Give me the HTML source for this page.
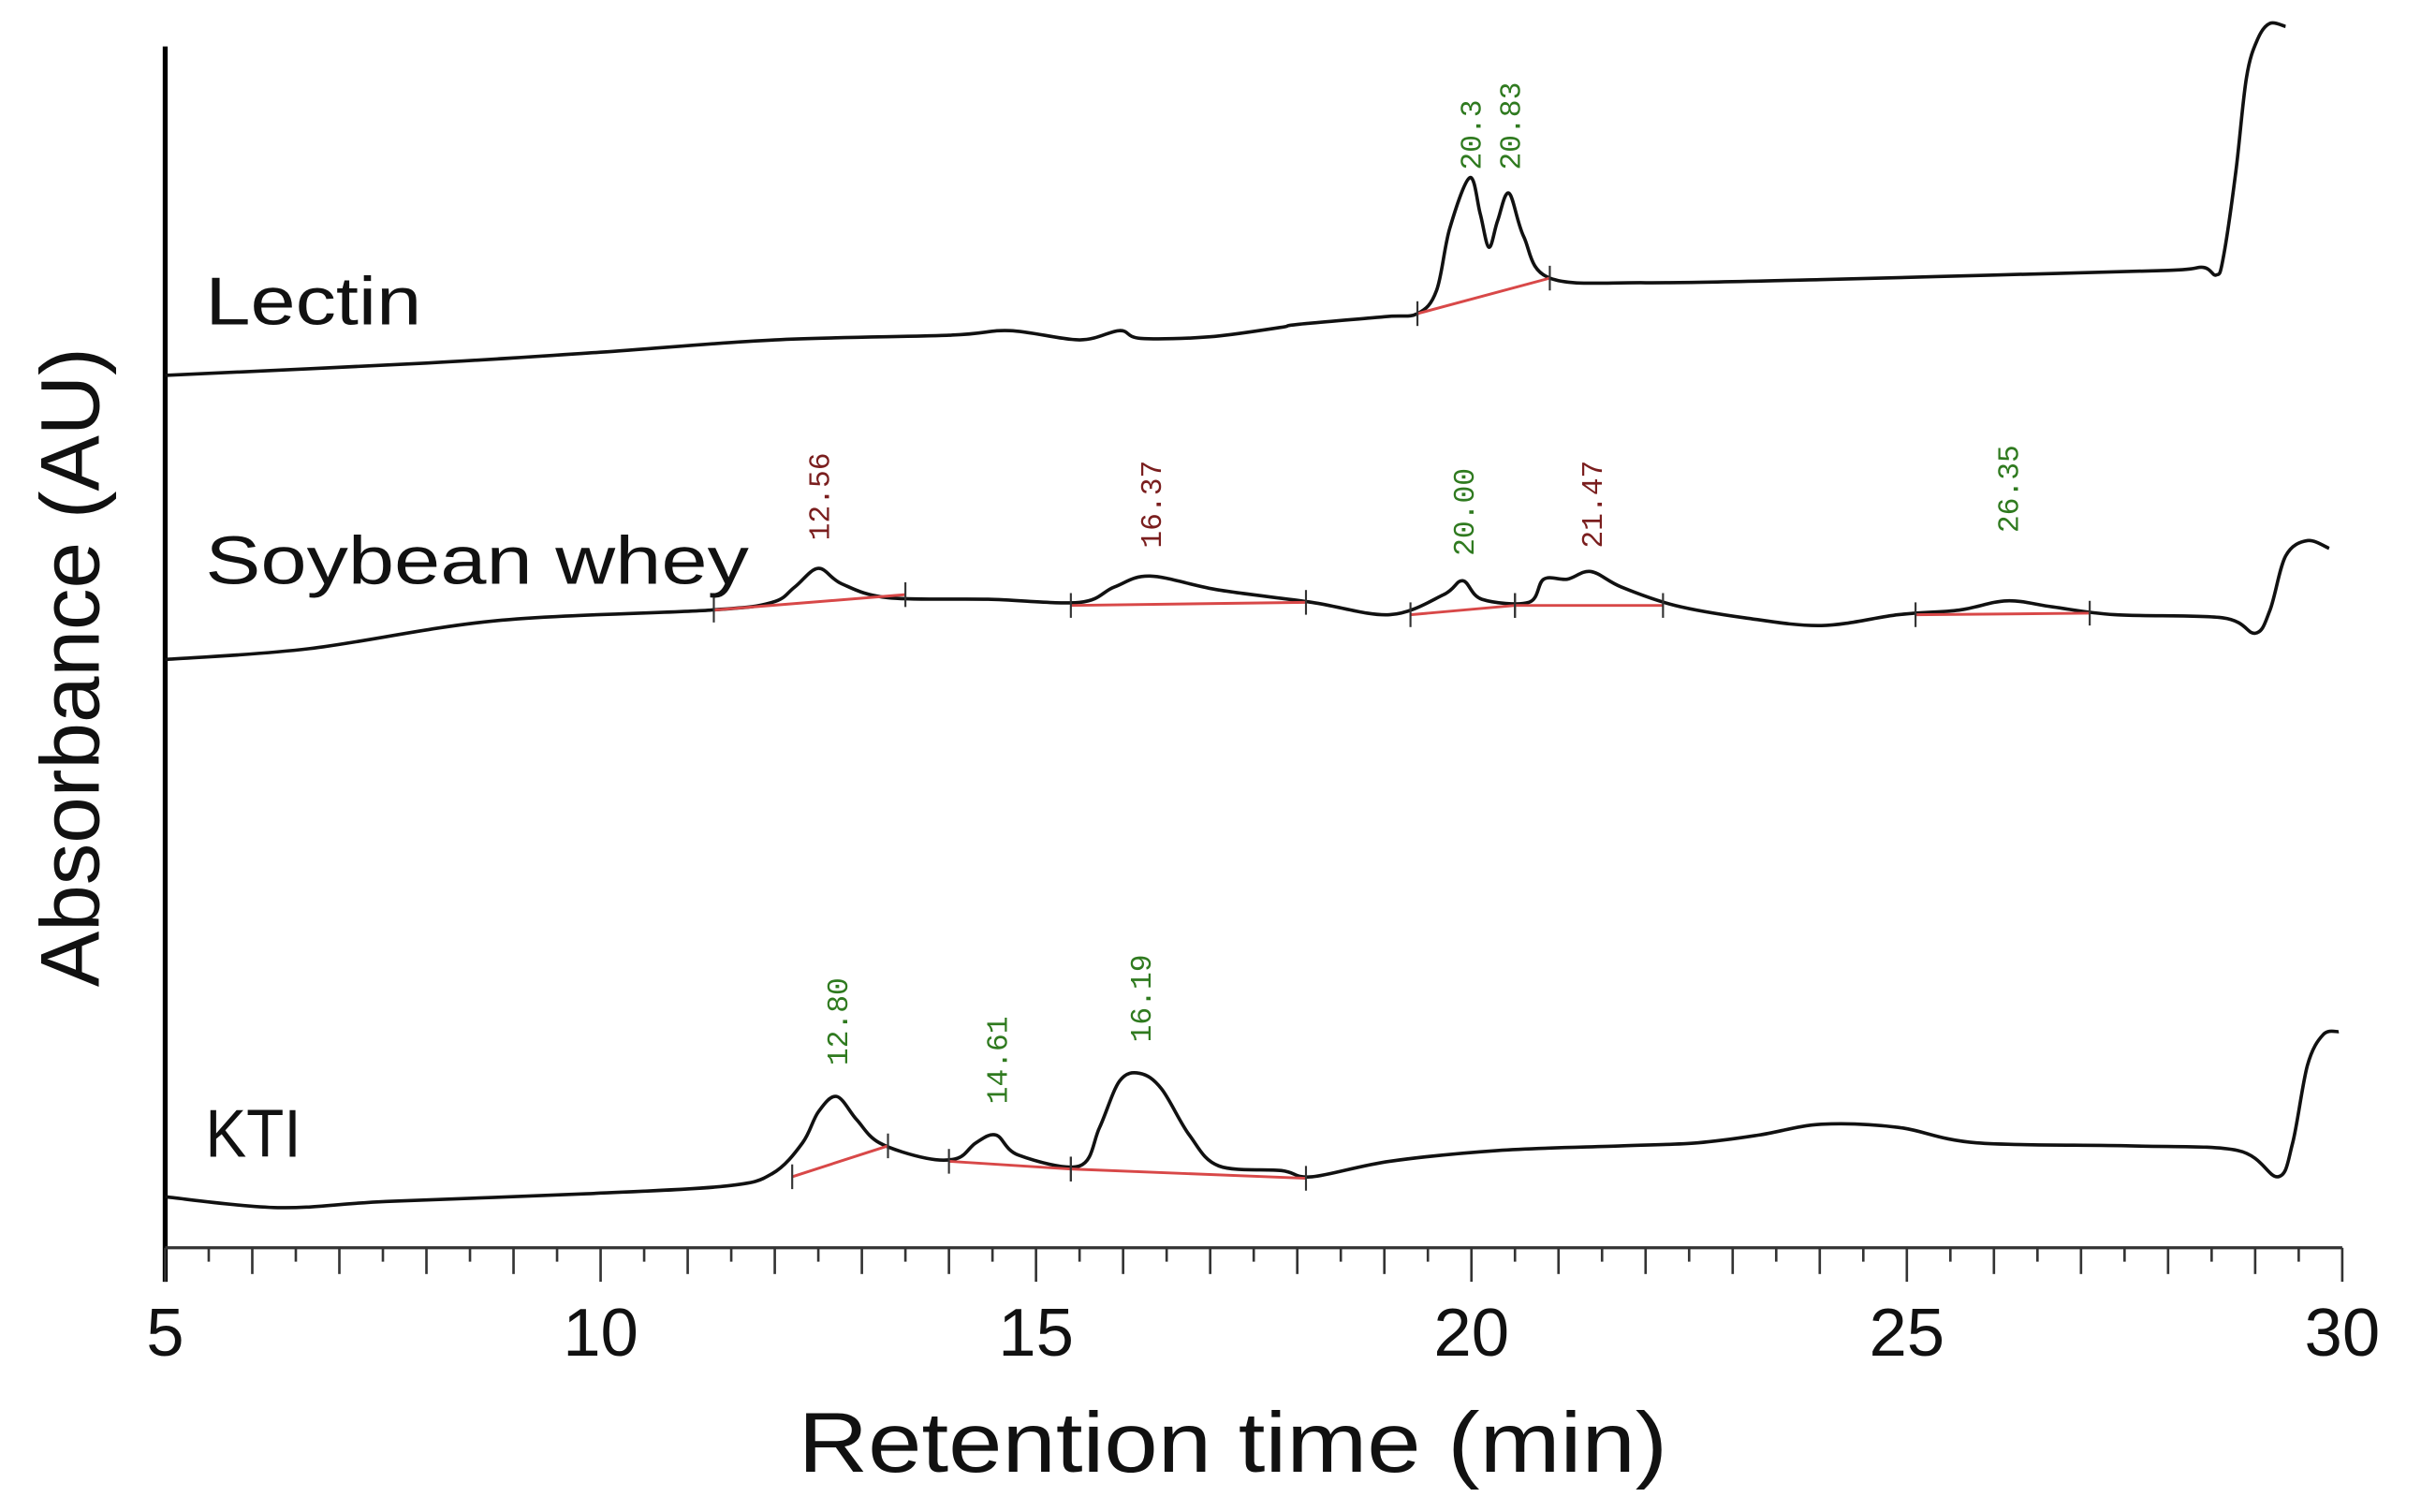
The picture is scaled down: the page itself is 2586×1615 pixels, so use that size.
<!DOCTYPE html>
<html><head><meta charset="utf-8"><style>html,body{margin:0;padding:0;background:#fff}svg{display:block}</style></head>
<body>
<svg id="chart" width="2586" height="1615" viewBox="0 0 1568 979" xmlns="http://www.w3.org/2000/svg" font-family="'Liberation Sans', sans-serif">
<g id="axes"></g>
<g id="traces"></g>
<g id="labels"></g>
</svg>
<script>
const xTicks = [5, 10, 15, 20, 25, 30];
const seriesNames = ["Lectin", "Soybean whey", "KTI"];
const lectinT = [5, 8, 10, 12, 14, 14.7, 15.5, 15.96, 16.2, 17, 17.8, 18, 19, 19.38, 19.6, 19.75, 19.98, 20.1, 20.2, 20.3, 20.43, 20.6, 20.9, 22, 24, 26, 28, 28.4, 28.55, 28.63, 28.78, 28.9, 29.03, 29.17, 29.35];
const lectinV = [565, 573, 580, 588, 591, 594, 588, 594, 589, 590, 596, 598, 603, 605, 620, 660, 693, 670, 648, 665, 683, 655, 628, 625, 627, 630, 633, 635, 630, 640, 698, 758, 783, 793, 791];
const soyT = [5, 6.65, 8.78, 11.26, 11.97, 12.23, 12.5, 12.77, 13.3, 14.45, 15.5, 15.9, 16.31, 17.1, 18.17, 19.06, 19.68, 19.9, 20.12, 20.66, 20.83, 21.1, 21.37, 21.72, 22.34, 23.14, 24.02, 24.9, 25.6, 26.15, 26.68, 27.39, 28.63, 29.0, 29.17, 29.35, 29.6, 29.85];
const soyV = [381, 388, 406, 413, 418, 428, 440, 430, 421, 420, 418, 428, 435, 426, 418, 410, 423, 432, 420, 418, 433, 433, 438, 428, 416, 408, 403, 410, 413, 419, 415, 410, 408, 398, 413, 448, 458, 453];
const ktiT = [5, 6.29, 7.54, 9.84, 11.44, 11.97, 12.32, 12.5, 12.71, 12.94, 13.2, 13.74, 14.1, 14.31, 14.54, 14.8, 15.5, 15.73, 15.96, 16.19, 16.44, 16.76, 17.1, 17.82, 18.17, 19.06, 20.3, 21.72, 22.6, 23.3, 24.02, 24.9, 25.8, 27.57, 28.8, 29.26, 29.43, 29.6, 29.78, 29.96];
const ktiV = [33, 26, 30, 35, 40, 48, 68, 88, 98, 83, 68, 58, 58, 68, 73, 60, 53, 78, 108, 113, 103, 73, 53, 50, 46, 56, 63, 66, 68, 73, 80, 78, 68, 66, 63, 46, 68, 118, 138, 140];
const peakTimes = [19.98, 20.43, 12.5, 16.31, 19.9, 21.37, 26.15, 12.71, 14.54, 16.19];
const peakLabels = ["20.3", "20.83", "12.56", "16.37", "20.00", "21.47", "26.35", "12.80", "14.61", "16.19"];
const peakLabelBottomV = [698, 698, 458, 453, 448, 453, 463, 118, 93, 133];
const peakColors = ["#2f7a1f","#2f7a1f","#7a1e1e","#7a1e1e","#2f7a1f","#7a1e1e","#2f7a1f","#2f7a1f","#2f7a1f","#2f7a1f"];
const baseStartT = [19.38, 11.3, 15.4, 19.3, 20.5, 25.1, 12.2, 14.0, 15.4];
const baseStartV = [605, 413, 416, 410, 416, 410, 46, 56, 51];
const baseEndT = [20.9, 13.5, 18.1, 20.5, 22.2, 27.1, 13.3, 15.4, 18.1];
const baseEndV = [628, 423, 418, 416, 416, 411, 66, 51, 45];

const NS = "http://www.w3.org/2000/svg";
const X0 = 107, X1 = 1517, T0 = 5, T1 = 30, AXY = 808;
function xs(t){ return X0 + (t - T0) * (X1 - X0) / (T1 - T0); }
function ys(v){ return AXY - v; }
function mk(tag, attrs, parent){ const e = document.createElementNS(NS, tag); for (const k in attrs) e.setAttribute(k, attrs[k]); parent.appendChild(e); return e; }
const axes = document.getElementById('axes'), traces = document.getElementById('traces'), labels = document.getElementById('labels');

let e = mk('line', {x1:X0, y1:30, x2:X0, y2:AXY+22, stroke:'#000', 'stroke-width':3.2}, axes);
 
e = mk('line', {x1:X0, y1:AXY, x2:X1, y2:AXY, stroke:'#333', 'stroke-width':2}, axes);
 
for (let t = T0; t <= T1 + 1e-9; t += 0.5) {
  const major = Math.abs(t % 5) < 1e-9, whole = Math.abs(t % 1) < 1e-9;
  const len = major ? 22 : (whole ? 17 : 9);
  e = mk('line', {x1:xs(t), y1:AXY, x2:xs(t), y2:AXY+len, stroke:'#333', 'stroke-width':1.6}, axes);
   
}
xTicks.forEach(t => {
  const tx = mk('text', {x:xs(t), y:878, 'font-size':44, 'text-anchor':'middle', fill:'#111'}, axes);
  tx.textContent = t;
   
});
e = mk('text', {x:517, y:953, 'font-size':55, textLength:563, lengthAdjust:'spacingAndGlyphs', fill:'#111'}, axes);
e.textContent = 'Retention time (min)';
 
e = mk('text', {x:0, y:0, 'font-size':54, 'text-anchor':'middle', fill:'#111', transform:'translate(64,432) rotate(-90)'}, axes);
e.textContent = 'Absorbance (AU)';
 

function drawTrace(T, V, name){
  const P = T.map((t,i)=>[xs(t), ys(V[i])]);
  let d = 'M' + P[0][0].toFixed(1) + ',' + P[0][1].toFixed(1);
  for (let i = 0; i < P.length - 1; i++) {
    const p0 = P[Math.max(0,i-1)], p1 = P[i], p2 = P[i+1], p3 = P[Math.min(P.length-1,i+2)];
    const c1x = p1[0] + (p2[0]-p0[0])/6, c1y = p1[1] + (p2[1]-p0[1])/6;
    const c2x = p2[0] - (p3[0]-p1[0])/6, c2y = p2[1] - (p3[1]-p1[1])/6;
    d += ' C' + c1x.toFixed(1)+','+c1y.toFixed(1)+' '+c2x.toFixed(1)+','+c2y.toFixed(1)+' '+p2[0].toFixed(1)+','+p2[1].toFixed(1);
  }
  const p = mk('path', {d:d, fill:'none', stroke:'#111', 'stroke-width':2.2, 'stroke-linejoin':'round'}, traces);
   
}
drawTrace(lectinT, lectinV, 'lectin-trace');
drawTrace(soyT, soyV, 'soybean-whey-trace');
drawTrace(ktiT, ktiV, 'kti-trace');

baseStartT.forEach((t,i)=>{
  const l = mk('line', {x1:xs(t), y1:ys(baseStartV[i]), x2:xs(baseEndT[i]), y2:ys(baseEndV[i]), stroke:'#d84848', 'stroke-width':1.8}, traces);
   
  [[t, baseStartV[i]], [baseEndT[i], baseEndV[i]]].forEach(p=>{
    const tk = mk('line', {x1:xs(p[0]), y1:ys(p[1])-8, x2:xs(p[0]), y2:ys(p[1])+8, stroke:'#333', 'stroke-width':1.3}, traces);
     
  });
});

const namePos = [[133, 210], [133, 378], [133, 749]];
const nameLen = [140, 352, 62];
seriesNames.forEach((n,i)=>{
  const tx = mk('text', {x:namePos[i][0], y:namePos[i][1], 'font-size':44, textLength:nameLen[i], lengthAdjust:'spacingAndGlyphs', fill:'#111'}, labels);
  tx.textContent = n;
   
});
peakTimes.forEach((t,i)=>{
  const x = xs(t) + 7, y = ys(peakLabelBottomV[i]);
  const tx = mk('text', {x:0, y:0, 'font-size':19, 'font-family':"'Liberation Mono', monospace", fill:peakColors[i], transform:'translate('+x.toFixed(1)+','+y.toFixed(1)+') rotate(-90)'}, labels);
  tx.textContent = peakLabels[i];
   
});
</script>
</body></html>
